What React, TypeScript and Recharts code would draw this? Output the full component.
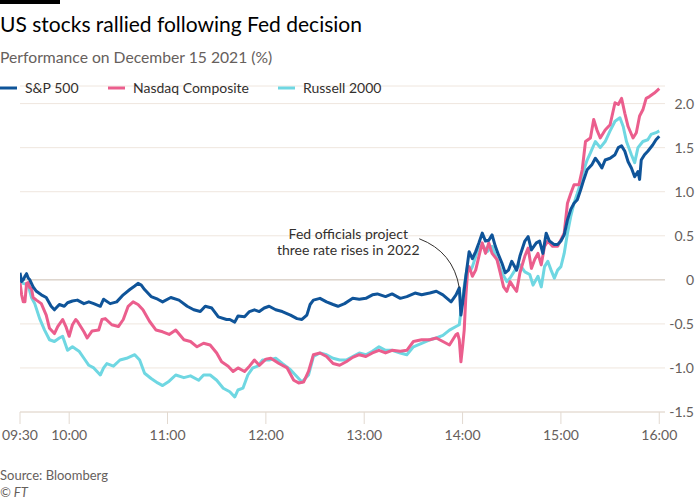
import React from 'react';
import { LineChart, Line, XAxis, YAxis, CartesianGrid, ReferenceLine, ReferenceDot } from 'recharts';

// minutes after the 09:30 open, % change on the day
const spMinutes = [0, 1, 2, 3, 4, 5, 6, 8, 10, 13, 16, 19, 21, 24, 27, 29, 32, 35, 39, 42, 45, 49, 51, 55, 59, 63, 67, 70, 72, 74, 76, 80, 84, 87, 92, 97, 102, 106, 110, 113, 117, 121, 126, 128, 131, 133, 137, 140, 143, 146, 149, 152, 156, 160, 165, 169, 172, 175, 177, 179, 183, 187, 191, 194, 198, 203, 207, 211, 215, 218, 223, 227, 232, 236, 241, 245, 250, 254, 258, 263, 266, 268, 269, 270, 272, 274, 276, 278, 280, 282, 284, 286, 288, 290, 292, 294, 296, 298, 300, 303, 305, 308, 310, 312, 315, 317, 319, 321, 323, 326, 328, 330, 332, 334, 336, 338, 340, 342, 344, 346, 349, 351, 353, 355, 357, 360, 363, 365, 367, 369, 371, 373, 375, 377, 378, 379, 381, 383, 386, 388, 390];
const spChange = [0.08, -0.02, 0.0, 0.04, 0.07, 0.02, 0.0, -0.08, -0.13, -0.17, -0.2, -0.3, -0.34, -0.28, -0.3, -0.26, -0.24, -0.23, -0.27, -0.25, -0.27, -0.3, -0.22, -0.27, -0.25, -0.17, -0.11, -0.07, -0.04, -0.06, -0.11, -0.19, -0.22, -0.25, -0.2, -0.23, -0.3, -0.34, -0.36, -0.3, -0.32, -0.42, -0.45, -0.45, -0.48, -0.41, -0.42, -0.36, -0.34, -0.36, -0.32, -0.3, -0.34, -0.36, -0.4, -0.44, -0.45, -0.4, -0.28, -0.23, -0.21, -0.25, -0.28, -0.3, -0.27, -0.21, -0.22, -0.21, -0.17, -0.16, -0.19, -0.16, -0.21, -0.19, -0.15, -0.17, -0.15, -0.13, -0.17, -0.25, -0.17, -0.09, -0.4, -0.27, 0.04, 0.32, 0.24, 0.32, 0.42, 0.53, 0.44, 0.45, 0.51, 0.38, 0.28, 0.19, 0.08, 0.11, 0.21, 0.11, 0.27, 0.44, 0.49, 0.34, 0.42, 0.44, 0.3, 0.53, 0.44, 0.4, 0.4, 0.44, 0.51, 0.68, 0.8, 0.87, 0.91, 1.02, 1.14, 1.25, 1.31, 1.38, 1.33, 1.27, 1.36, 1.38, 1.42, 1.5, 1.52, 1.46, 1.34, 1.27, 1.17, 1.23, 1.14, 1.36, 1.42, 1.46, 1.53, 1.59, 1.63];

const ndMinutes = [0, 1, 2, 3, 4, 5, 6, 7, 8, 10, 13, 16, 18, 21, 23, 26, 28, 30, 32, 34, 35, 39, 41, 44, 48, 50, 52, 56, 60, 63, 66, 69, 72, 75, 79, 83, 87, 91, 95, 100, 104, 108, 112, 116, 120, 123, 127, 130, 133, 137, 140, 143, 146, 150, 153, 158, 163, 167, 170, 173, 176, 179, 183, 187, 191, 195, 199, 203, 207, 211, 215, 219, 223, 227, 232, 236, 240, 245, 250, 254, 258, 262, 266, 267, 268, 269, 270, 271, 272, 273, 274, 276, 278, 280, 282, 284, 286, 288, 291, 293, 295, 297, 299, 301, 303, 305, 308, 310, 312, 314, 316, 318, 320, 322, 325, 328, 332, 334, 336, 338, 341, 343, 345, 348, 350, 352, 354, 357, 360, 363, 365, 367, 369, 371, 374, 376, 378, 380, 382, 384, 387, 390];
const ndChange = [-0.03, -0.17, -0.25, -0.25, -0.04, -0.03, -0.09, -0.1, -0.2, -0.23, -0.27, -0.4, -0.55, -0.61, -0.53, -0.45, -0.53, -0.64, -0.51, -0.45, -0.47, -0.59, -0.66, -0.58, -0.57, -0.45, -0.44, -0.51, -0.53, -0.45, -0.3, -0.25, -0.28, -0.34, -0.47, -0.57, -0.59, -0.62, -0.57, -0.68, -0.7, -0.76, -0.72, -0.74, -0.83, -0.93, -0.98, -1.04, -1.0, -1.04, -0.98, -0.91, -0.97, -0.9, -0.89, -0.95, -1.0, -1.14, -1.17, -1.16, -1.04, -0.85, -0.83, -0.87, -0.95, -0.97, -0.93, -0.88, -0.85, -0.87, -0.83, -0.8, -0.83, -0.8, -0.81, -0.8, -0.7, -0.68, -0.68, -0.66, -0.7, -0.74, -0.62, -0.61, -0.68, -0.93, -0.76, -0.57, -0.19, 0.08, 0.15, 0.04, 0.11, 0.27, 0.42, 0.3, 0.42, 0.3, 0.23, 0.08, -0.08, -0.13, -0.02, -0.08, -0.13, 0.08, 0.27, 0.36, 0.13, 0.23, 0.3, 0.17, 0.38, 0.44, 0.38, 0.38, 0.53, 0.87, 0.98, 1.08, 1.08, 1.25, 1.57, 1.61, 1.82, 1.7, 1.61, 1.7, 1.76, 2.01, 1.99, 2.06, 1.89, 1.74, 1.61, 1.67, 1.86, 1.93, 2.06, 2.08, 2.12, 2.17];

const ruMinutes = [0, 2, 4, 5, 7, 9, 12, 15, 18, 21, 24, 26, 29, 32, 36, 39, 42, 45, 47, 49, 51, 53, 57, 61, 65, 70, 73, 76, 80, 84, 87, 91, 95, 100, 104, 109, 112, 116, 120, 124, 128, 131, 133, 136, 139, 142, 145, 148, 152, 156, 160, 165, 169, 172, 176, 179, 183, 187, 191, 195, 199, 203, 207, 211, 215, 219, 223, 227, 232, 236, 240, 245, 250, 254, 258, 262, 266, 268, 270, 272, 273, 275, 276, 279, 282, 285, 288, 291, 294, 297, 299, 302, 305, 308, 311, 313, 316, 318, 320, 322, 324, 326, 328, 330, 332, 334, 336, 338, 340, 342, 344, 346, 348, 351, 354, 357, 360, 363, 366, 368, 370, 373, 375, 377, 380, 383, 385, 388, 390];
const ruChange = [-0.02, -0.04, -0.05, -0.06, -0.2, -0.27, -0.44, -0.57, -0.68, -0.7, -0.66, -0.64, -0.8, -0.76, -0.81, -0.89, -0.97, -1.0, -1.04, -1.08, -1.0, -0.95, -0.98, -0.91, -0.89, -0.85, -0.91, -1.06, -1.12, -1.17, -1.2, -1.15, -1.08, -1.11, -1.09, -1.14, -1.08, -1.08, -1.14, -1.23, -1.27, -1.33, -1.25, -1.23, -1.08, -1.0, -0.98, -0.91, -0.91, -0.89, -0.95, -1.02, -1.1, -1.16, -1.08, -0.87, -0.83, -0.85, -0.89, -0.91, -0.91, -0.87, -0.83, -0.85, -0.81, -0.76, -0.8, -0.8, -0.83, -0.85, -0.76, -0.72, -0.68, -0.66, -0.63, -0.57, -0.53, -0.51, -0.2, 0.05, 0.15, 0.11, 0.15, 0.32, 0.4, 0.32, 0.38, 0.23, 0.08, -0.02, 0.02, 0.11, 0.17, 0.09, 0.06, -0.06, 0.04, -0.08, 0.15, 0.21, 0.11, 0.02, 0.11, 0.15, 0.3, 0.53, 0.72, 0.87, 0.98, 1.1, 1.25, 1.36, 1.44, 1.57, 1.5, 1.57, 1.69, 1.8, 1.84, 1.74, 1.57, 1.42, 1.33, 1.5, 1.57, 1.59, 1.65, 1.67, 1.69];

const timeTicks = [0, 30, 90, 150, 210, 270, 330, 390];
const pctTicks = [-1.5, -1, -0.5, 0, 0.5, 1, 1.5, 2];

const series = [
  { name: 'S&P 500', color: '#0f5499', minutes: spMinutes, values: spChange },
  { name: 'Nasdaq Composite', color: '#eb5e8d', minutes: ndMinutes, values: ndChange },
  { name: 'Russell 2000', color: '#6fd7e2', minutes: ruMinutes, values: ruChange },
];

const toRows = (mins: number[], vals: number[]) => mins.map((m, i) => ({ minute: m, value: vals[i] }));

const clock = (m: number) => {
  const t = 9 * 60 + 30 + m;
  return `${String(Math.floor(t / 60)).padStart(2, '0')}:${String(t % 60).padStart(2, '0')}`;
};

const grey = '#66605c';

const PctTick = ({ x, y, payload }: any) => (
  <text x={x + 29} y={y} dy="0.35em" textAnchor="end" fill={grey} fontSize={14}>
    {payload.value === 0 ? '0' : payload.value.toFixed(1)}
  </text>
);

// note text + curved pointer, placed relative to where the pointer ends
const FedNote = ({ cx, cy }: any) => (
  <g>
    <path d={`M ${cx - 40} ${cy - 49} Q ${cx - 6} ${cy - 36} ${cx} ${cy}`} fill="none" stroke="#33302e" strokeWidth={1} />
    <text x={cx - 111} y={cy - 49} textAnchor="middle" fill="#33302e" fontSize={14}>Fed officials project</text>
    <text x={cx - 111} y={cy - 33} textAnchor="middle" fill="#33302e" fontSize={14}>three rate rises in 2022</text>
  </g>
);

export default function App() {
  const legendX = [0, 108, 278];
  return (
    <div style={{ position: 'absolute', left: 0, top: 0, width: 700, height: 500, background: '#fff', fontFamily: 'Lato, sans-serif' }}>
      <div style={{ position: 'absolute', left: 0, top: 0 }}>
        <LineChart width={700} height={460} margin={{ top: 86, right: 0, left: 20, bottom: 0 }}>
          <CartesianGrid vertical={false} stroke="#efe6de" strokeWidth={1} />
          <ReferenceLine y={0} stroke="#d2c9c0" strokeWidth={1} />
          <XAxis
            type="number"
            dataKey="minute"
            domain={[0, 393.5]}
            ticks={timeTicks}
            tickFormatter={clock}
            tickSize={12}
            tickMargin={6}
            height={48}
            axisLine={{ stroke: '#e2d9d0' }}
            tickLine={{ stroke: '#e2d9d0' }}
            tick={{ fill: grey, fontSize: 14 }}
            allowDataOverflow
          />
          <YAxis
            orientation="right"
            type="number"
            domain={[-1.5, 2.2]}
            ticks={pctTicks}
            width={35}
            axisLine={false}
            tickLine={false}
            tickSize={0}
            tickMargin={0}
            tick={<PctTick />}
            allowDataOverflow
          />
          {[...series].reverse().map((s) => (
            <Line
              key={s.name}
              data={toRows(s.minutes, s.values)}
              dataKey="value"
              name={s.name}
              type="linear"
              stroke={s.color}
              strokeWidth={3}
              strokeLinejoin="round"
              dot={false}
              activeDot={false}
              isAnimationActive={false}
            />
          ))}
          <ReferenceDot x={268} y={-0.09} r={0} shape={(p: any) => <FedNote {...p} />} />
        </LineChart>
      </div>
      <svg width={700} height={500} style={{ position: 'absolute', left: 0, top: 0, pointerEvents: 'none' }}>
        <rect x={0} y={0} width={60} height={4} fill="#000" />
        <text x={0} y={32} fontSize={21} fill="#000">US stocks rallied following Fed decision</text>
        <text x={0} y={63} fontSize={15.7} fill={grey}>Performance on December 15 2021 (%)</text>
        {series.map((s, i) => (
          <g key={s.name}>
            <line x1={legendX[i]} x2={legendX[i] + 17} y1={88} y2={88} stroke={s.color} strokeWidth={3} />
            <text x={legendX[i] + 25} y={93} fontSize={14} fill="#33302e">{s.name}</text>
          </g>
        ))}
        <text x={0} y={480} fontSize={13} fill={grey}>Source: Bloomberg</text>
        <text x={0} y={497} fontSize={13} fill={grey} fontStyle="italic">© FT</text>
      </svg>
    </div>
  );
}
